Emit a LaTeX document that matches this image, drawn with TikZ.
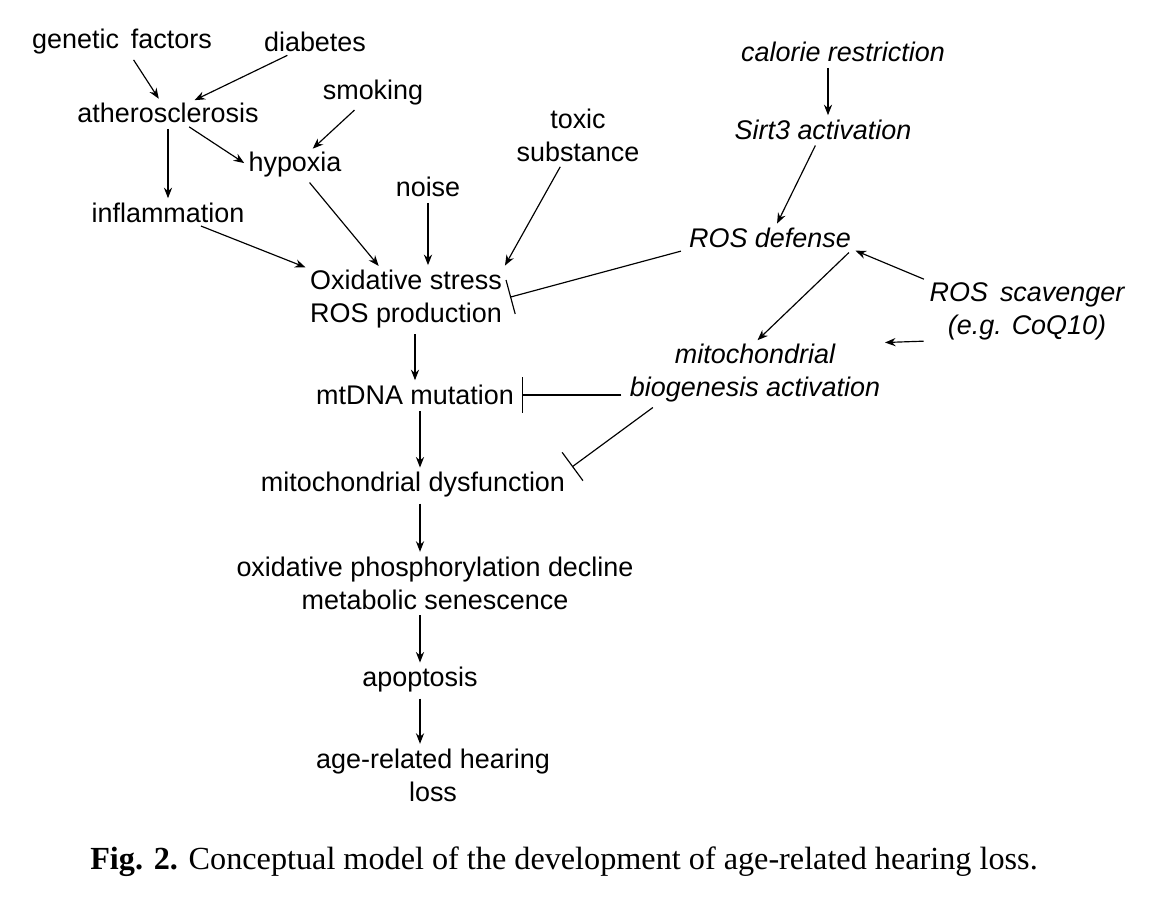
\documentclass[tikz,border=0pt]{standalone}
\usepackage{fontspec}
\setmainfont{Liberation Serif}
\newfontfamily\arialf{Liberation Sans}
\usetikzlibrary{arrows.meta, positioning}
\tikzstyle{factor} = [font=\arialf\fontsize{23}{28}\selectfont, align=center, inner sep=1pt]
\tikzstyle{therapy} = [factor, font=\arialf\itshape\fontsize{23}{28}\selectfont]
\tikzstyle{cause} = [-{Stealth[length=9pt,width=7pt]}, line width=1pt, shorten <=4pt, shorten >=3pt]
\tikzstyle{block} = [-{Bar[width=30pt]}, line width=1pt, shorten <=6pt, shorten >=6pt]

\begin{document}
\begin{tikzpicture}
    [x=0.03cm, y=-0.03cm]
    \useasboundingbox (0,0) rectangle (1162,904);
    \node [factor] (genetic) at (122,42) {genetic\, factors};
    \node [factor] (diabetes) at (315,42) {diabetes};
    \node [factor] (athero) at (168,113) {atherosclerosis};
    \node [factor] (smoking) at (373,93) {smoking};
    \node [factor] (hypoxia) at (295,165) {hypoxia};
    \node [factor] (toxic) at (578,135) {toxic\\substance};
    \node [factor] (noise) at (428,187) {noise};
    \node [factor] (inflam) at (168,213) {inflammation};
    \node [factor] (oxid) at (406,299) {Oxidative stress\\ROS production};
    \node [factor] (mtdna) at (415,395) {mtDNA mutation};
    \node [factor] (dysf) at (413,485) {mitochondrial dysfunction};
    \node [factor] (oxphos) at (435,583) {oxidative phosphorylation decline\\metabolic senescence};
    \node [factor] (apop) at (420,680) {apoptosis};
    \node [factor] (arhl) at (433,775) {age-related hearing\\loss};

    \node [therapy] (calorie) at (843,52) {calorie restriction};
    \node [therapy] (sirt) at (823,130) {Sirt3 activation};
    \node [therapy] (rosdef) at (770,238) {ROS defense};
    \node [therapy] (scav) at (1027,311) {ROS\, scavenger\\(e.g. CoQ10)};
    \node [therapy] (biogen) at (755,373) {mitochondrial\\biogenesis activation};

    \node [font=\fontsize{27.5}{32}\selectfont] (caption) at (564,862) {\textbf{Fig. 2.} Conceptual model of the development of age-related hearing loss.};

    \draw [cause] (genetic) -- (athero);
    \draw [cause] (diabetes) -- (athero);
    \draw [cause] (athero) -- (inflam);
    \draw [cause] (athero) -- (hypoxia.west);
    \draw [cause] (smoking) -- (hypoxia);
    \draw [cause] (inflam) -- (oxid.north west);
    \draw [cause] (hypoxia) -- (oxid);
    \draw [cause] (noise) -- (noise |- oxid.north);
    \draw [cause] (toxic) -- (oxid.north east);
    \draw [cause] (oxid.south -| mtdna) -- (mtdna);
    \draw [cause] (mtdna.south -| 420,0) -- (dysf.north -| 420,0);
    \draw [cause] (dysf.south -| 420,0) -- (oxphos.north -| 420,0);
    \draw [cause] (oxphos.south -| 420,0) -- (apop.north -| 420,0);
    \draw [cause] (apop.south -| 420,0) -- (arhl.north -| 420,0);

    \draw [cause] (calorie.south -| 828,0) -- (sirt.north -| 828,0);
    \draw [cause] (sirt) -- (rosdef);
    \draw [cause] (rosdef.south east) -- (biogen.north);
    \draw [cause] (scav.north west) -- (rosdef.south east);
    \draw [cause] (scav.south west) -- (biogen.north east);

    \draw [block] (rosdef.south west) -- (oxid.east);
    \draw [block] (biogen.west |- mtdna) -- (mtdna.east);
    \draw [block] (biogen.south west) ++(30,0) -- (dysf.north east);
\end{tikzpicture}
\end{document}
